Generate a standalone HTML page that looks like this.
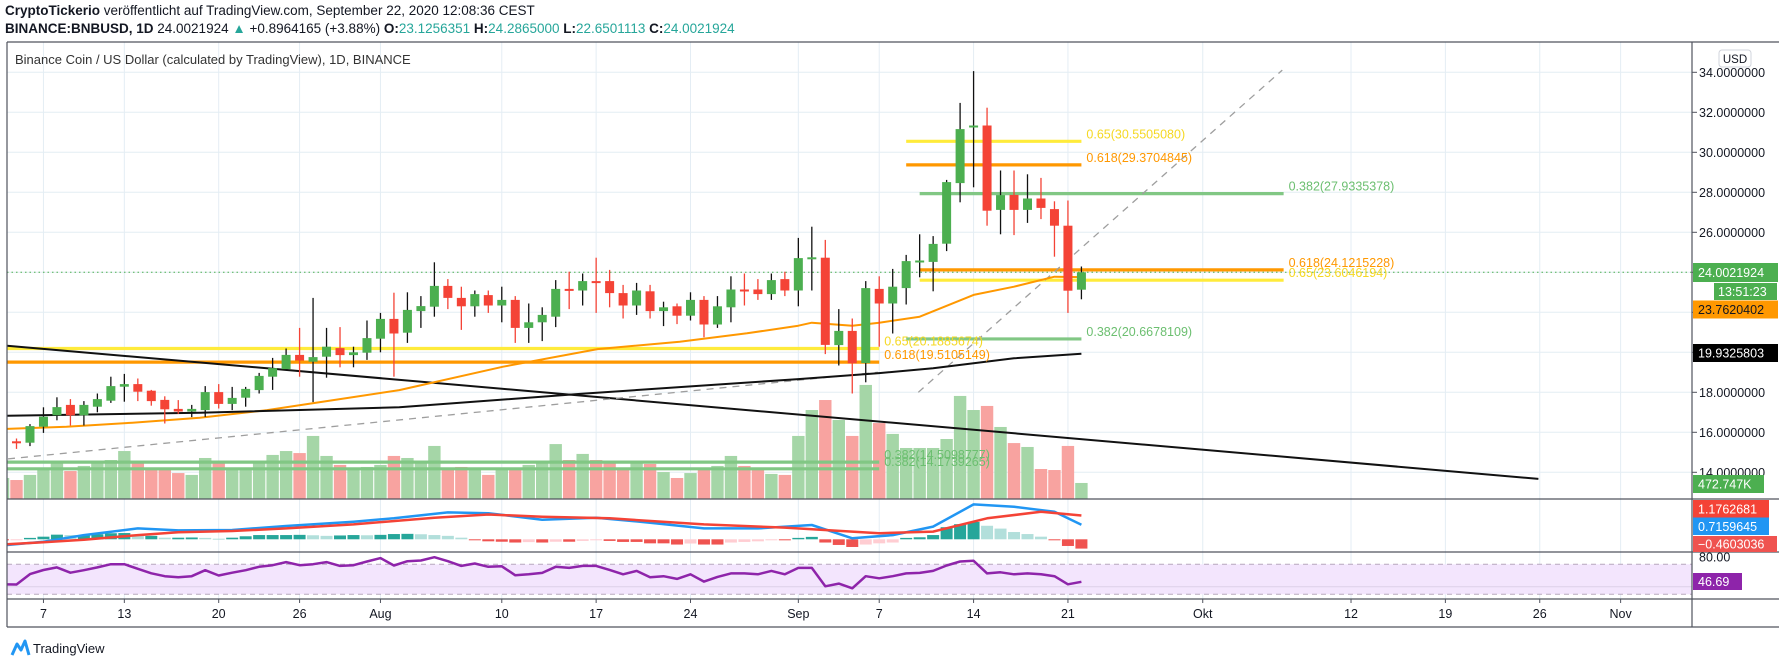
<!DOCTYPE html>
<html><head><meta charset="utf-8">
<style>
html,body{margin:0;padding:0;background:#fff;width:1779px;height:665px;overflow:hidden;font-family:"Liberation Sans",sans-serif;}
#hdr1{position:absolute;left:5px;top:3px;font-size:13.5px;color:#131722;white-space:nowrap;}
#hdr2{position:absolute;left:5px;top:21px;font-size:13.5px;color:#131722;white-space:nowrap;}
.tv{color:#26a69a}
svg{position:absolute;left:0;top:0}
</style></head><body>
<div id="hdr1"><b>CryptoTickerio</b> veröffentlicht auf TradingView.com, September 22, 2020 12:08:36 CEST</div>
<div id="hdr2"><b>BINANCE:BNBUSD, 1D</b> 24.0021924 <span class="tv">▲</span> +0.8964165 (+3.88%) <b>O:</b><span class="tv">23.1256351</span> <b>H:</b><span class="tv">24.2865000</span> <b>L:</b><span class="tv">22.6501113</span> <b>C:</b><span class="tv">24.0021924</span></div>
<svg id="c" width="1779" height="665" xmlns="http://www.w3.org/2000/svg"></svg>
<script>
// ---- data (day index: Jul 4 = -1, Jul 5 = 0) ----
const firstDay = -1;
const open = [15.31,15.55,15.48,16.28,16.85,17.37,16.85,17.28,17.58,18.28,18.41,18.08,17.62,17.17,17.04,17.11,18.01,17.42,17.73,18.11,18.78,19.16,19.87,19.53,19.78,20.21,19.86,19.98,
20.68,21.67,20.98,22.06,22.28,23.32,22.72,22.3,22.86,22.34,22.62,21.22,21.5,21.78,23.17,23.09,23.56,23.56,22.96,22.34,23.05,22.06,22.3,21.83,22.62,21.39,22.25,23.14,23.14,22.91,23.66,
23.09,24.69,24.73,20.36,21.07,19.46,23.17,22.44,23.21,24.5,24.52,25.43,28.46,31.25,31.34,27.12,27.87,27.12,27.69,27.16,26.33,23.13];
const high = [15.78,15.69,16.41,17.25,17.75,17.66,17.56,17.94,18.78,18.92,18.69,18.12,17.8,17.61,17.37,18.31,18.41,18.27,18.27,18.97,19.72,20.19,21.22,22.72,21.22,21.26,20.28,21.59,
21.97,22.98,23.0,22.81,24.5,23.66,23.28,23.09,23.09,23.28,22.81,22.44,22.25,23.61,24.03,23.94,24.73,24.12,23.37,23.47,23.37,22.53,22.44,23.0,22.81,22.81,23.8,23.94,23.66,23.94,24.03,
25.72,26.28,25.62,22.16,21.69,23.56,23.8,24.17,24.87,25.9,25.81,28.62,32.47,34.06,32.23,29.09,29.09,28.9,28.72,27.55,27.59,24.29];
const low = [15.17,15.17,15.31,15.97,16.6,16.34,16.34,17.0,17.47,17.53,17.56,17.33,16.44,16.92,16.76,16.77,17.19,17.11,17.28,17.94,18.12,19.11,18.78,17.51,18.73,19.25,19.25,19.62,
20.0,18.78,20.47,21.22,21.78,22.16,21.12,21.78,21.97,21.5,20.47,20.47,20.56,21.26,22.16,22.34,21.97,22.25,21.69,21.87,21.69,21.31,21.41,21.59,20.75,21.22,21.5,22.34,22.62,22.62,22.81,
22.3,23.09,19.91,19.34,17.94,18.5,20.28,20.94,22.39,23.75,23.05,25.06,27.5,28.25,26.33,25.9,25.86,26.47,26.66,24.78,21.97,22.65];
const close = [15.61,15.45,16.31,16.78,17.26,16.85,17.37,17.66,18.31,18.41,18.03,17.56,17.15,17.04,17.17,18.01,17.42,17.72,18.17,18.82,19.21,19.87,19.59,19.76,20.28,19.86,20.0,20.71,
21.67,20.94,22.12,22.31,23.32,22.72,22.3,22.91,22.34,22.62,21.22,21.5,21.87,23.17,23.09,23.56,23.47,22.96,22.34,23.09,22.06,22.25,21.83,22.62,21.39,22.3,23.14,23.09,22.91,23.61,23.09,
24.71,24.75,20.37,21.07,19.45,23.21,22.44,23.28,24.56,24.59,25.42,28.51,31.16,31.34,27.08,27.86,27.12,27.69,27.22,26.33,23.08,24.00];
const volumeK = [620,560,710,915,1060,825,975,1060,1150,1415,1120,915,885,765,710,1210,1120,885,915,1090,1300,1415,1355,1860,1270,1005,885,945,
1005,1270,1210,1090,1565,915,945,885,710,915,885,1005,1060,1620,1150,1330,1150,1060,855,1060,1035,795,620,765,915,975,1270,975,915,740,710,
1860,2625,2920,2330,1860,3365,2240,1920,1505,1505,1505,1770,3040,2625,2745,2125,1650,1535,885,855,1565,473];
const macdHist = [-0.03,-0.02,0.07,0.13,0.23,0.21,0.21,0.25,0.30,0.31,0.17,0.17,0.08,0.08,0.09,0.07,0.03,0.08,0.15,0.21,0.21,0.21,0.22,0.2,0.17,0.19,0.21,0.20,
0.22,0.26,0.27,0.25,0.21,0.17,0.08,-0.03,-0.1,-0.12,-0.16,-0.14,
-0.16,-0.12,-0.12,-0.08,-0.03,-0.08,-0.13,-0.13,-0.2,-0.2,-0.26,-0.21,-0.26,-0.26,-0.16,-0.13,-0.1,-0.05,-0.05,0.07,0.12,-0.16,-0.28,-0.38,-0.26,-0.2,-0.16,0.07,0.1,0.21,0.6,0.75,0.86,0.67,0.53,0.36,0.26,0.13,-0.03,-0.33,-0.46];
const rsi = [43.4,43.0,56.9,62.4,65.8,58.8,62.1,65.8,70.1,70.1,64,58,54.1,52.7,54.1,62.1,55,58.8,62.1,66.6,68.8,72.9,68.8,70.1,72.9,67.9,68.8,73.7,78.2,68.4,74.1,75,79.5,74.1,67.9,71,66.6,67.4,55.4,56.7,58.5,66.6,
65.2,67.9,67.9,62.5,56.7,61.2,52.7,54.1,50.5,56.7,46.9,53.2,57.9,57.9,56.7,61.2,56.7,65.2,65.2,40.7,44.3,38,54.1,51.4,54.1,57.9,58.5,61.2,68.4,73.7,74.6,57.9,59.4,56.7,57.9,56.7,54.1,43.4,46.7];
const macdDays = [-0.7,2,5,9,12,16,20,25,28,32,35,39,43,47,51,55,59,62,65,68,71,74,77,79];
const macdVals = [-0.28,-0.12,0.21,0.54,0.44,0.46,0.66,0.87,1.04,1.33,1.29,0.97,1.07,0.82,0.54,0.54,0.71,0.05,0.21,0.63,1.73,1.61,1.36,0.72];
const sigDays = [-0.7,2,5,9,12,16,20,25,31,35,39,44,51,57,64,68,72,76,79];
const sigVals = [-0.25,-0.15,-0.02,0.21,0.35,0.41,0.54,0.74,1.07,1.23,1.12,1.04,0.74,0.58,0.3,0.38,1.04,1.36,1.18];
const ma50Days = [-0.7,3.7,8.6,13.6,18.6,23.5,28.4,30.7,36.1,43.1,49.2,54.2,58,59,62,64,67,71,74,77,79];
const ma50Vals = [16.17,16.28,16.48,16.73,17.11,17.61,18.11,18.46,19.28,20.16,20.53,20.95,21.33,21.48,21.33,21.48,21.78,22.87,23.28,23.78,23.76];
const ma200Days = [-0.7,13.6,28.4,41.8,58,64,68,71,74,79];
const ma200Vals = [16.83,16.98,17.25,17.92,18.66,18.96,19.2,19.45,19.7,19.93];
const priceTicks = [34,32,30,28,26,24,22,20,18,16,14];
const timeTickDays = [2,8,15,21,27,36,43,50,58,64,71,78,88,99,106,113,119];
const timeTickLabels = ["7","13","20","26","Aug","10","17","24","Sep","7","14","21","Okt","12","19","26","Nov"];
const fibPrices = [20.1885674,19.5105149,14.5098777,14.1739265,30.5505080,29.3704845,20.6678109,27.9335378,24.1215228,23.6046194];
const fibLabels = ["0.65(20.1885674)","0.618(19.5105149)","0.382(14.5098777)","0.382(14.1739265)","0.65(30.5505080)","0.618(29.3704845)","0.382(20.6678109)","0.382(27.9335378)","0.618(24.1215228)","0.65(23.6046194)"];
const fibStart = [-0.7,-0.7,-0.7,-0.7,66,66,66,67,67,67];
const fibEnd = [64,64,64,64,79,79,79,94,94,94];
const fibColors = ["#ffeb3b","#ff9800","#81c784","#81c784","#ffeb3b","#ff9800","#81c784","#81c784","#ff9800","#ffeb3b"];
const trendDays = [-0.7,112.9];
const trendVals = [20.33,13.67];
const dash1Days = [-0.63,63.9];
const dash1Vals = [14.67,19.0];
const dash2Days = [66.9,93.9];
const dash2Vals = [18.0,34.11];

// ---- axes ----
const X = d => 16.5 + 13.48*d;
const YP = p => 272.3 + (24-p)*20;
const YV = v => 499 - v/29.5;
const YM = v => 539.3 - v*20.2;
const YR = r => 579.3 - (r-50)*0.75;
const L = 7, R = 1692;
const NS = "http://www.w3.org/2000/svg";
const svg = document.getElementById('c');
function mk(tag, attrs, parent){ const e=document.createElementNS(NS,tag); for(const k in attrs) e.setAttribute(k,attrs[k]); (parent||svg).appendChild(e); return e; }

// defs / clips
const defs = mk('defs',{});
const cp = mk('clipPath',{id:'cm'},defs); mk('rect',{x:L,y:42,width:R-L,height:457},cp);
const cp2 = mk('clipPath',{id:'cmacd'},defs); mk('rect',{x:L,y:499,width:R-L,height:53},cp2);
const cp3 = mk('clipPath',{id:'crsi'},defs); mk('rect',{x:L,y:552,width:R-L,height:47},cp3);

// grid
const grid = mk('g',{stroke:'#e4edf4','stroke-width':1});


timeTickDays.forEach(d=>{ const l=mk('line',{x1:X(d),x2:X(d),y1:42,y2:599},grid);
 
  });
priceTicks.forEach(p=>{ const l=mk('line',{x1:L,x2:R,y1:YP(p),y2:YP(p)},grid);
 
  });

// RSI band
const band = mk('rect',{x:L,y:YR(70),width:R-L,height:YR(30)-YR(70),fill:'#f3e5fd'});


[70,30].forEach(v=>{ const l=mk('line',{x1:L,x2:R,y1:YR(v),y2:YR(v),stroke:'#b8a8bd','stroke-dasharray':'5,4'});
 
  });
const mid = mk('line',{x1:L,x2:R,y1:YR(40),y2:YR(40),stroke:'#dcd0e8'});



// main pane group
const main = mk('g',{'clip-path':'url(#cm)'});



// volume
volumeK.forEach((v,i)=>{ const d=firstDay+i; const up=close[i]>=open[i];
 const r=mk('rect',{x:X(d)-6.2,y:YV(v),width:12.4,height:499-YV(v),fill:up?'#a5d6a7':'#f8a3a0'},main);
 
  });

// fib lines
fibPrices.forEach((p,i)=>{ const l=mk('line',{x1:X(fibStart[i]),x2:X(fibEnd[i]),y1:YP(p),y2:YP(p),stroke:fibColors[i],'stroke-width':3.2},main);
 
  });

// trend lines
const tl = mk('line',{x1:X(trendDays[0]),y1:YP(trendVals[0]),x2:X(trendDays[1]),y2:YP(trendVals[1]),stroke:'#111','stroke-width':2},main);


const d1 = mk('line',{x1:X(dash1Days[0]),y1:YP(dash1Vals[0]),x2:X(dash1Days[1]),y2:YP(dash1Vals[1]),stroke:'#9e9e9e','stroke-width':1.3,'stroke-dasharray':'7,6'},main);


const d2 = mk('line',{x1:X(dash2Days[0]),y1:YP(dash2Vals[0]),x2:X(dash2Days[1]),y2:YP(dash2Vals[1]),stroke:'#9e9e9e','stroke-width':1.3,'stroke-dasharray':'7,6'},main);



// moving averages
const pts = (ds,vs,fy)=>ds.map((d,i)=>X(d).toFixed(1)+','+fy(vs[i]).toFixed(1)).join(' ');
const m50 = mk('polyline',{points:pts(ma50Days,ma50Vals,YP),fill:'none',stroke:'#ff9800','stroke-width':2,'stroke-linejoin':'round'},main);


const m200 = mk('polyline',{points:pts(ma200Days,ma200Vals,YP),fill:'none',stroke:'#111','stroke-width':2,'stroke-linejoin':'round'},main);



// last price dotted
const lp = mk('line',{x1:L,x2:R,y1:YP(close[close.length-1]),y2:YP(close[close.length-1]),stroke:'#4caf50','stroke-dasharray':'1.5,3'},main);



// candles
open.forEach((o,i)=>{ const d=firstDay+i, c=close[i], up=c>=o, x=X(d);
 const col=up?'#4caf50':'#f44336';
 const g=mk('g',{},main);
 
 
 mk('line',{x1:x,x2:x,y1:YP(high[i]),y2:YP(low[i]),stroke:up?'#111':'#f44336','stroke-width':1.3},g);
 const t=Math.min(YP(o),YP(c)), h=Math.max(2,Math.abs(YP(o)-YP(c)));
 mk('rect',{x:x-4.5,y:t,width:9,height:h,fill:col},g); });

// fib labels
fibPrices.forEach((p,i)=>{ const t=mk('text',{x:X(fibEnd[i])+5,y:YP(p)-3,fill:fibColors[i]==='#81c784'?'#6cbf70':(fibColors[i]==='#ffeb3b'?'#f5d823':'#ff9800'),'font-size':12.5},main);
 t.textContent=fibLabels[i];
 
  });

// title
const ttl = mk('text',{x:15,y:64,'font-size':13,fill:'#333'});
ttl.textContent='Binance Coin / US Dollar (calculated by TradingView), 1D, BINANCE';



// MACD
const mg = mk('g',{'clip-path':'url(#cmacd)'});


macdHist.forEach((v,i)=>{ const d=firstDay+i; const prev=i?macdHist[i-1]:v;
 let col; if(v>=0) col = v>=prev?'#26a69a':'#b2dfdb'; else col = v<=prev?'#ef5350':'#ffcdd2';
 const y0=YM(0), y1=YM(v);
 const r=mk('rect',{x:X(d)-6,y:Math.min(y0,y1),width:12,height:Math.max(1,Math.abs(y1-y0)),fill:col},mg);
 
  });
const ml = mk('polyline',{points:pts(macdDays,macdVals,YM),fill:'none',stroke:'#2196f3','stroke-width':2.5,'stroke-linejoin':'round'},mg);


const sl = mk('polyline',{points:pts(sigDays,sigVals,YM),fill:'none',stroke:'#f44336','stroke-width':2.5,'stroke-linejoin':'round'},mg);



// RSI
const rg = mk('g',{'clip-path':'url(#crsi)'});


const rl = mk('polyline',{points:rsi.map((v,i)=>X(firstDay+i).toFixed(1)+','+YR(v).toFixed(1)).join(' '),fill:'none',stroke:'#8e24aa','stroke-width':2.5,'stroke-linejoin':'round'},rg);



// frame
const fr = mk('g',{stroke:'#50535e','stroke-width':1.2,fill:'none'});


mk('line',{x1:L,x2:1779,y1:42,y2:42},fr);
mk('line',{x1:L,x2:L,y1:42,y2:627},fr);
mk('line',{x1:R,x2:R,y1:42,y2:627},fr);
mk('line',{x1:L,x2:1779,y1:499,y2:499},fr);
mk('line',{x1:L,x2:1779,y1:552,y2:552},fr);
mk('line',{x1:L,x2:1779,y1:599,y2:599},fr);
mk('line',{x1:L,x2:1779,y1:627,y2:627},fr);

// price axis labels
priceTicks.forEach(p=>{ mk('line',{x1:R,x2:R+5,y1:YP(p),y2:YP(p),stroke:'#50535e'});
 const t=mk('text',{x:R+7,y:YP(p)+4.5,'font-size':12.5,fill:'#131722'});
 t.textContent=p.toFixed(7);
 
  });
const rt=mk('text',{x:R+7,y:YR(80)+4.5,'font-size':12.5,fill:'#131722'});
rt.textContent='80.00';



// USD badge
const ub = mk('rect',{x:1719,y:50,width:32,height:17,rx:3,fill:'#fff',stroke:'#d1d4dc'});


const ut = mk('text',{x:1735,y:63,'font-size':11.5,fill:'#131722','text-anchor':'middle'});
ut.textContent='USD';



// axis value boxes
const boxes = [
 ['24.0021924', 263, 19, '#4caf50', '#fff', 85, 'last-price-label', 1693],
 ['13:51:23', 283, 17, '#4caf50', '#fff', 63, 'countdown-label', 1714],
 ['23.7620402', 300.5, 18, '#ff9800', '#131722', 85, 'ma50-value-label', 1693],
 ['19.9325803', 344, 18, '#000', '#fff', 85, 'ma200-value-label', 1693],
 ['472.747K', 475, 18, '#4caf50', '#fff', 71, 'volume-value-label', 1693],
 ['1.1762681', 500, 17.5, '#f44336', '#fff', 76, 'signal-value-label', 1693],
 ['0.7159645', 517.5, 17.5, '#2196f3', '#fff', 76, 'macd-value-label', 1693],
 ['\u22120.4603036', 536, 16, '#ef5350', '#fff', 84, 'histogram-value-label', 1693],
 ['46.69', 573, 17, '#8e24aa', '#fff', 49, 'rsi-value-label', 1693]
];
boxes.forEach(b=>{ const r=mk('rect',{x:b[7],y:b[1],width:b[5],height:b[2],fill:b[3]});
 
 
 const t=mk('text',{x:b[7]===1693?1698:b[7]+4,y:b[1]+b[2]/2+4.5,'font-size':12.5,fill:b[4]});
 t.textContent=b[0];
 
  });

// time axis
timeTickDays.forEach((d,i)=>{ mk('line',{x1:X(d),x2:X(d),y1:599,y2:603,stroke:'#50535e'});
 const t=mk('text',{x:X(d),y:618,'font-size':12.5,fill:'#131722','text-anchor':'middle'});
 t.textContent=timeTickLabels[i];
 
  });

// logo
const lg = mk('g',{});


mk('path',{d:'M12 655 L17 644 L21 650 L25 641 L29 655',fill:'none',stroke:'#2196f3','stroke-width':3,'stroke-linejoin':'round'},lg);
const lt = mk('text',{x:33,y:653,'font-size':13,fill:'#131722'},lg);
lt.textContent='TradingView';
</script>
</body></html>
